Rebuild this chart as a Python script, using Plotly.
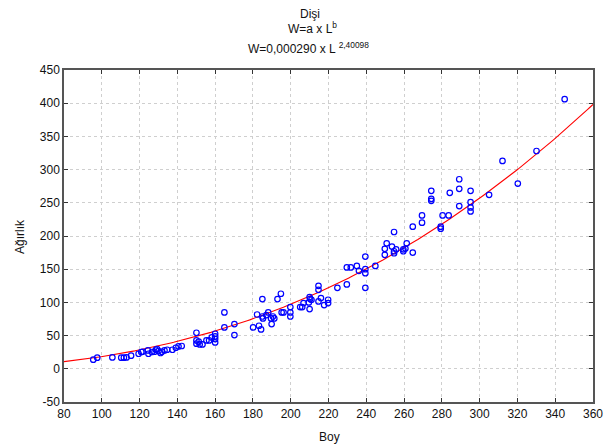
import numpy as np
import plotly.graph_objects as go

# Data
boy = [95.5, 97.6, 105.6, 110.3, 111.7, 113.1, 115.5, 119.5, 120.9, 121.6,
       124.4, 124.7, 126.5, 127.9, 128.6, 129.3, 130.0, 131.1, 131.8, 133.2,
       134.6, 137.4, 139.2, 140.6, 142.3, 150.1, 150.1, 150.1, 151.3, 151.8,
       153.3, 155.4, 156.8, 158.2, 160.0, 160.0, 160.0, 160.0, 164.9, 164.9,
       170.2, 170.2, 180.1, 182.2, 183.2, 184.3, 185.0, 185.3, 185.0, 187.1,
       188.1, 189.6, 189.9, 190.6, 191.3, 193.0, 194.8, 195.2, 196.2, 199.8,
       199.8, 199.8, 205.0, 206.1, 206.8, 210.0, 209.6, 211.0, 210.0, 210.3,
       214.7, 214.7, 214.7, 216.0, 217.7, 219.8, 219.8, 224.7, 229.7, 229.7,
       231.8, 235.0, 236.1, 239.5, 239.5, 239.5, 239.5, 244.8, 249.8, 249.8,
       250.8, 253.6, 254.7, 254.7, 254.7, 255.8, 259.6, 260.7, 259.6, 261.4,
       264.6, 264.6, 269.5, 269.5, 274.4, 274.4, 274.4, 279.4, 279.4, 280.4,
       283.6, 284.2, 289.2, 289.2, 289.2, 295.2, 295.2, 295.2, 295.2, 305.0,
       312.1, 320.2, 330.1, 345.0]
agirlik = [13.7, 16.7, 17.2, 16.7, 16.7, 17.2, 19.7, 22.7, 25.3, 25.7,
           27.7, 22.7, 25.3, 25.7, 28.7, 29.8, 26.8, 23.8, 25.7, 27.7,
           28.7, 28.7, 31.7, 33.7, 34.3, 54.3, 42.7, 37.8, 40.8, 36.7,
           36.7, 42.7, 42.7, 47.2, 52.8, 48.7, 44.8, 39.7, 84.9, 62.3,
           67.4, 50.8, 62.3, 81.8, 64.8, 59.3, 105.0, 75.8, 78.8, 80.9,
           84.9, 75.8, 67.4, 78.8, 75.8, 105.0, 113.0, 84.9, 84.9, 93.0,
           84.9, 78.8, 93.0, 93.0, 99.0, 90.0, 100.0, 104.0, 108.0, 105.0,
           125.0, 119.0, 101.4, 106.5, 96.0, 99.0, 104.0, 122.0, 127.0, 152.6,
           152.6, 155.0, 147.6, 169.0, 150.0, 144.0, 122.0, 155.0, 180.7, 171.6,
           189.0, 184.0, 206.0, 177.0, 174.0, 180.0, 180.0, 181.0, 177.0, 189.0,
           214.0, 175.0, 231.0, 220.0, 268.0, 256.0, 253.0, 214.0, 211.0, 231.0,
           231.0, 265.0, 285.5, 271.0, 245.0, 268.0, 251.0, 243.0, 237.0, 262.0,
           313.0, 279.0, 328.0, 406.0]

# Fitted model W = a * L^b (from the chart title)
a_coef = 0.000290
b_coef = 2.40098

x_ticks = [80, 100, 120, 140, 160, 180, 200, 220, 240, 260, 280, 300, 320, 340, 360]
y_ticks = [-50, 0, 50, 100, 150, 200, 250, 300, 350, 400, 450]
y_tick_labels = ["-50", "0", "50", "100", "150", "200", "250", "300", "350", "400", "450"]

font = "Arial, Liberation Sans, sans-serif"

L_fit = np.linspace(80, 360, 300)
W_fit = a_coef * L_fit ** b_coef

fig = go.Figure()
fig.add_trace(go.Scatter(x=L_fit, y=W_fit, mode="lines",
                         line=dict(color="#ff0000", width=1.1),
                         hoverinfo="skip", showlegend=False))
fig.add_trace(go.Scatter(x=boy, y=agirlik, mode="markers",
                         marker=dict(symbol="circle-open", size=5.5,
                                     color="#0000ff", line=dict(width=1.2)),
                         showlegend=False))

axis_common = dict(showline=True, linecolor="#555555", linewidth=1.5, mirror="allticks",
                   ticks="inside", ticklen=4, tickcolor="#333333", automargin=False,
                   showgrid=True, gridcolor="#cfcfcf", griddash="dot", gridwidth=1,
                   zeroline=False, tickfont=dict(family=font, size=12, color="#111111"))

fig.update_xaxes(range=[80, 360], tickvals=x_ticks, **axis_common)
fig.update_yaxes(range=[-50, 450], tickvals=y_ticks, ticktext=y_tick_labels, **axis_common)

annots = [
    dict(text="Dişi", x=0.465, y=1.1687, size=12),
    dict(text="W=a x L<sup>b</sup>", x=0.47, y=1.1265, size=12),
    dict(text="W=0,000290 x L <sup>2,40098</sup>", x=0.462, y=1.0663, size=12),
]
ann_list = []
for an in annots:
    ann_list.append(dict(text=an["text"], x=an["x"], y=an["y"], xref="paper", yref="paper",
                         xanchor="center", yanchor="middle", showarrow=False,
                         font=dict(family=font, size=an["size"], color="#111111")))
ann_list.append(dict(text="Boy", x=(329 - 64) / 529, y=-(437 - 402) / 332,
                     xref="paper", yref="paper", xanchor="center", yanchor="middle",
                     showarrow=False, font=dict(family=font, size=12, color="#111111")))
ann_list.append(dict(text="Ağırlık", x=-(64 - 20) / 529, y=(402 - 237) / 332,
                     xref="paper", yref="paper", xanchor="center", yanchor="middle",
                     textangle=-90, showarrow=False,
                     font=dict(family=font, size=12, color="#111111")))

fig.update_layout(width=605, height=448, margin=dict(l=64, r=12, t=70, b=46),
                  paper_bgcolor="white", plot_bgcolor="white",
                  annotations=ann_list, font=dict(family=font))

fig.write_html("out.html")
